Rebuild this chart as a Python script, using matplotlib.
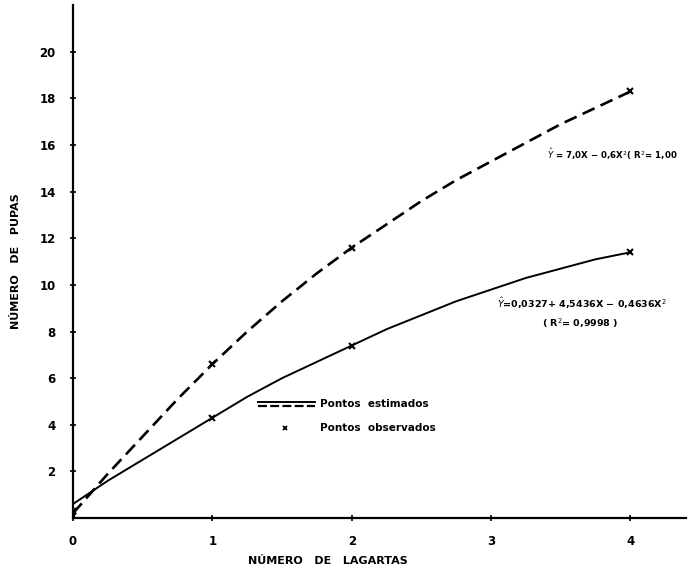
import matplotlib
matplotlib.use("Agg")
from matplotlib import pyplot as plt

# curves (estimated regression lines)
x_curve = [0, 0.25, 0.5, 0.75, 1, 1.25, 1.5, 1.75, 2, 2.25, 2.5, 2.75, 3, 3.25, 3.5, 3.75, 4]
y_dashed = [0.2, 1.9, 3.5, 5.1, 6.6, 8.0, 9.3, 10.5, 11.6, 12.6, 13.6, 14.5, 15.3, 16.1, 16.9, 17.6, 18.3]
y_solid = [0.6, 1.6, 2.5, 3.4, 4.3, 5.2, 6.0, 6.7, 7.4, 8.1, 8.7, 9.3, 9.8, 10.3, 10.7, 11.1, 11.4]

# observed points
x_obs = [0, 1, 2, 4]
obs_dashed = [0.1, 6.6, 11.6, 18.3]
obs_solid = [0.3, 4.3, 7.4, 11.4]

x_ticks = [0, 1, 2, 3, 4]
y_ticks = [2, 4, 6, 8, 10, 12, 14, 16, 18, 20]

plt.rcParams['font.family'] = ['DejaVu Sans']

fig = plt.figure(figsize=(6.89, 5.82), dpi=100)
ax = fig.add_axes([0.106, 0.11, 0.890, 0.881])

ax.plot(x_curve, y_dashed, color='black', lw=1.9, dashes=(5, 2.5))
ax.plot(x_curve, y_solid, color='black', lw=1.4)
ax.plot(x_obs, obs_dashed, 'x', color='black', ms=4, mew=1.5)
ax.plot(x_obs, obs_solid, 'x', color='black', ms=4, mew=1.5)

ax.set_xlim(0, 4.4)
ax.set_ylim(0, 22)
ax.spines['top'].set_visible(False)
ax.spines['right'].set_visible(False)
ax.spines['left'].set_linewidth(1.6)
ax.spines['bottom'].set_linewidth(1.6)

ax.set_xticks(x_ticks)
ax.set_xticklabels([str(v) for v in x_ticks], fontsize=8.5, fontweight='bold')
ax.set_yticks(y_ticks)
ax.set_yticklabels([str(v) for v in y_ticks], fontsize=8.5, fontweight='bold')
ax.tick_params(direction='inout', length=5, width=1.2, pad=10)

ax.set_xlabel('NÚMERO   DE   LAGARTAS', fontsize=8, fontweight='bold', labelpad=14)
ax.xaxis.set_label_coords(0.416, -0.075)
ax.set_ylabel('NÚMERO   DE   PUPAS', fontsize=8, fontweight='bold')
ax.yaxis.set_label_coords(-0.085, 0.5)

# equations
ax.text(3.40, 15.6, r'$\hat{Y}$ = 7,0X − 0,6X$^2$( R$^2$= 1,00',
        fontsize=6.2, fontweight='bold', va='center')
ax.text(3.04, 9.2, r'$\hat{Y}$=0,0327+ 4,5436X − 0,4636X$^2$',
        fontsize=6.8, fontweight='bold', va='center')
ax.text(3.64, 8.36, '( R$^2$= 0,9998 )', fontsize=6.8, fontweight='bold',
        va='center', ha='center')

# legend drawn by hand
ax.plot([0.302, 0.395], [0.227, 0.227], transform=ax.transAxes, color='black', lw=1.4)
ax.plot([0.302, 0.395], [0.219, 0.219], transform=ax.transAxes, color='black', lw=1.6,
        dashes=(4, 1.5))
ax.text(0.402, 0.222, 'Pontos  estimados', transform=ax.transAxes, fontsize=7.5,
        fontweight='bold', va='center')
ax.plot([0.346], [0.175], 'x', transform=ax.transAxes, color='black', ms=3.5, mew=1.3)
ax.text(0.402, 0.175, 'Pontos  observados', transform=ax.transAxes, fontsize=7.5,
        fontweight='bold', va='center')

fig.savefig('out.png', dpi=100)
